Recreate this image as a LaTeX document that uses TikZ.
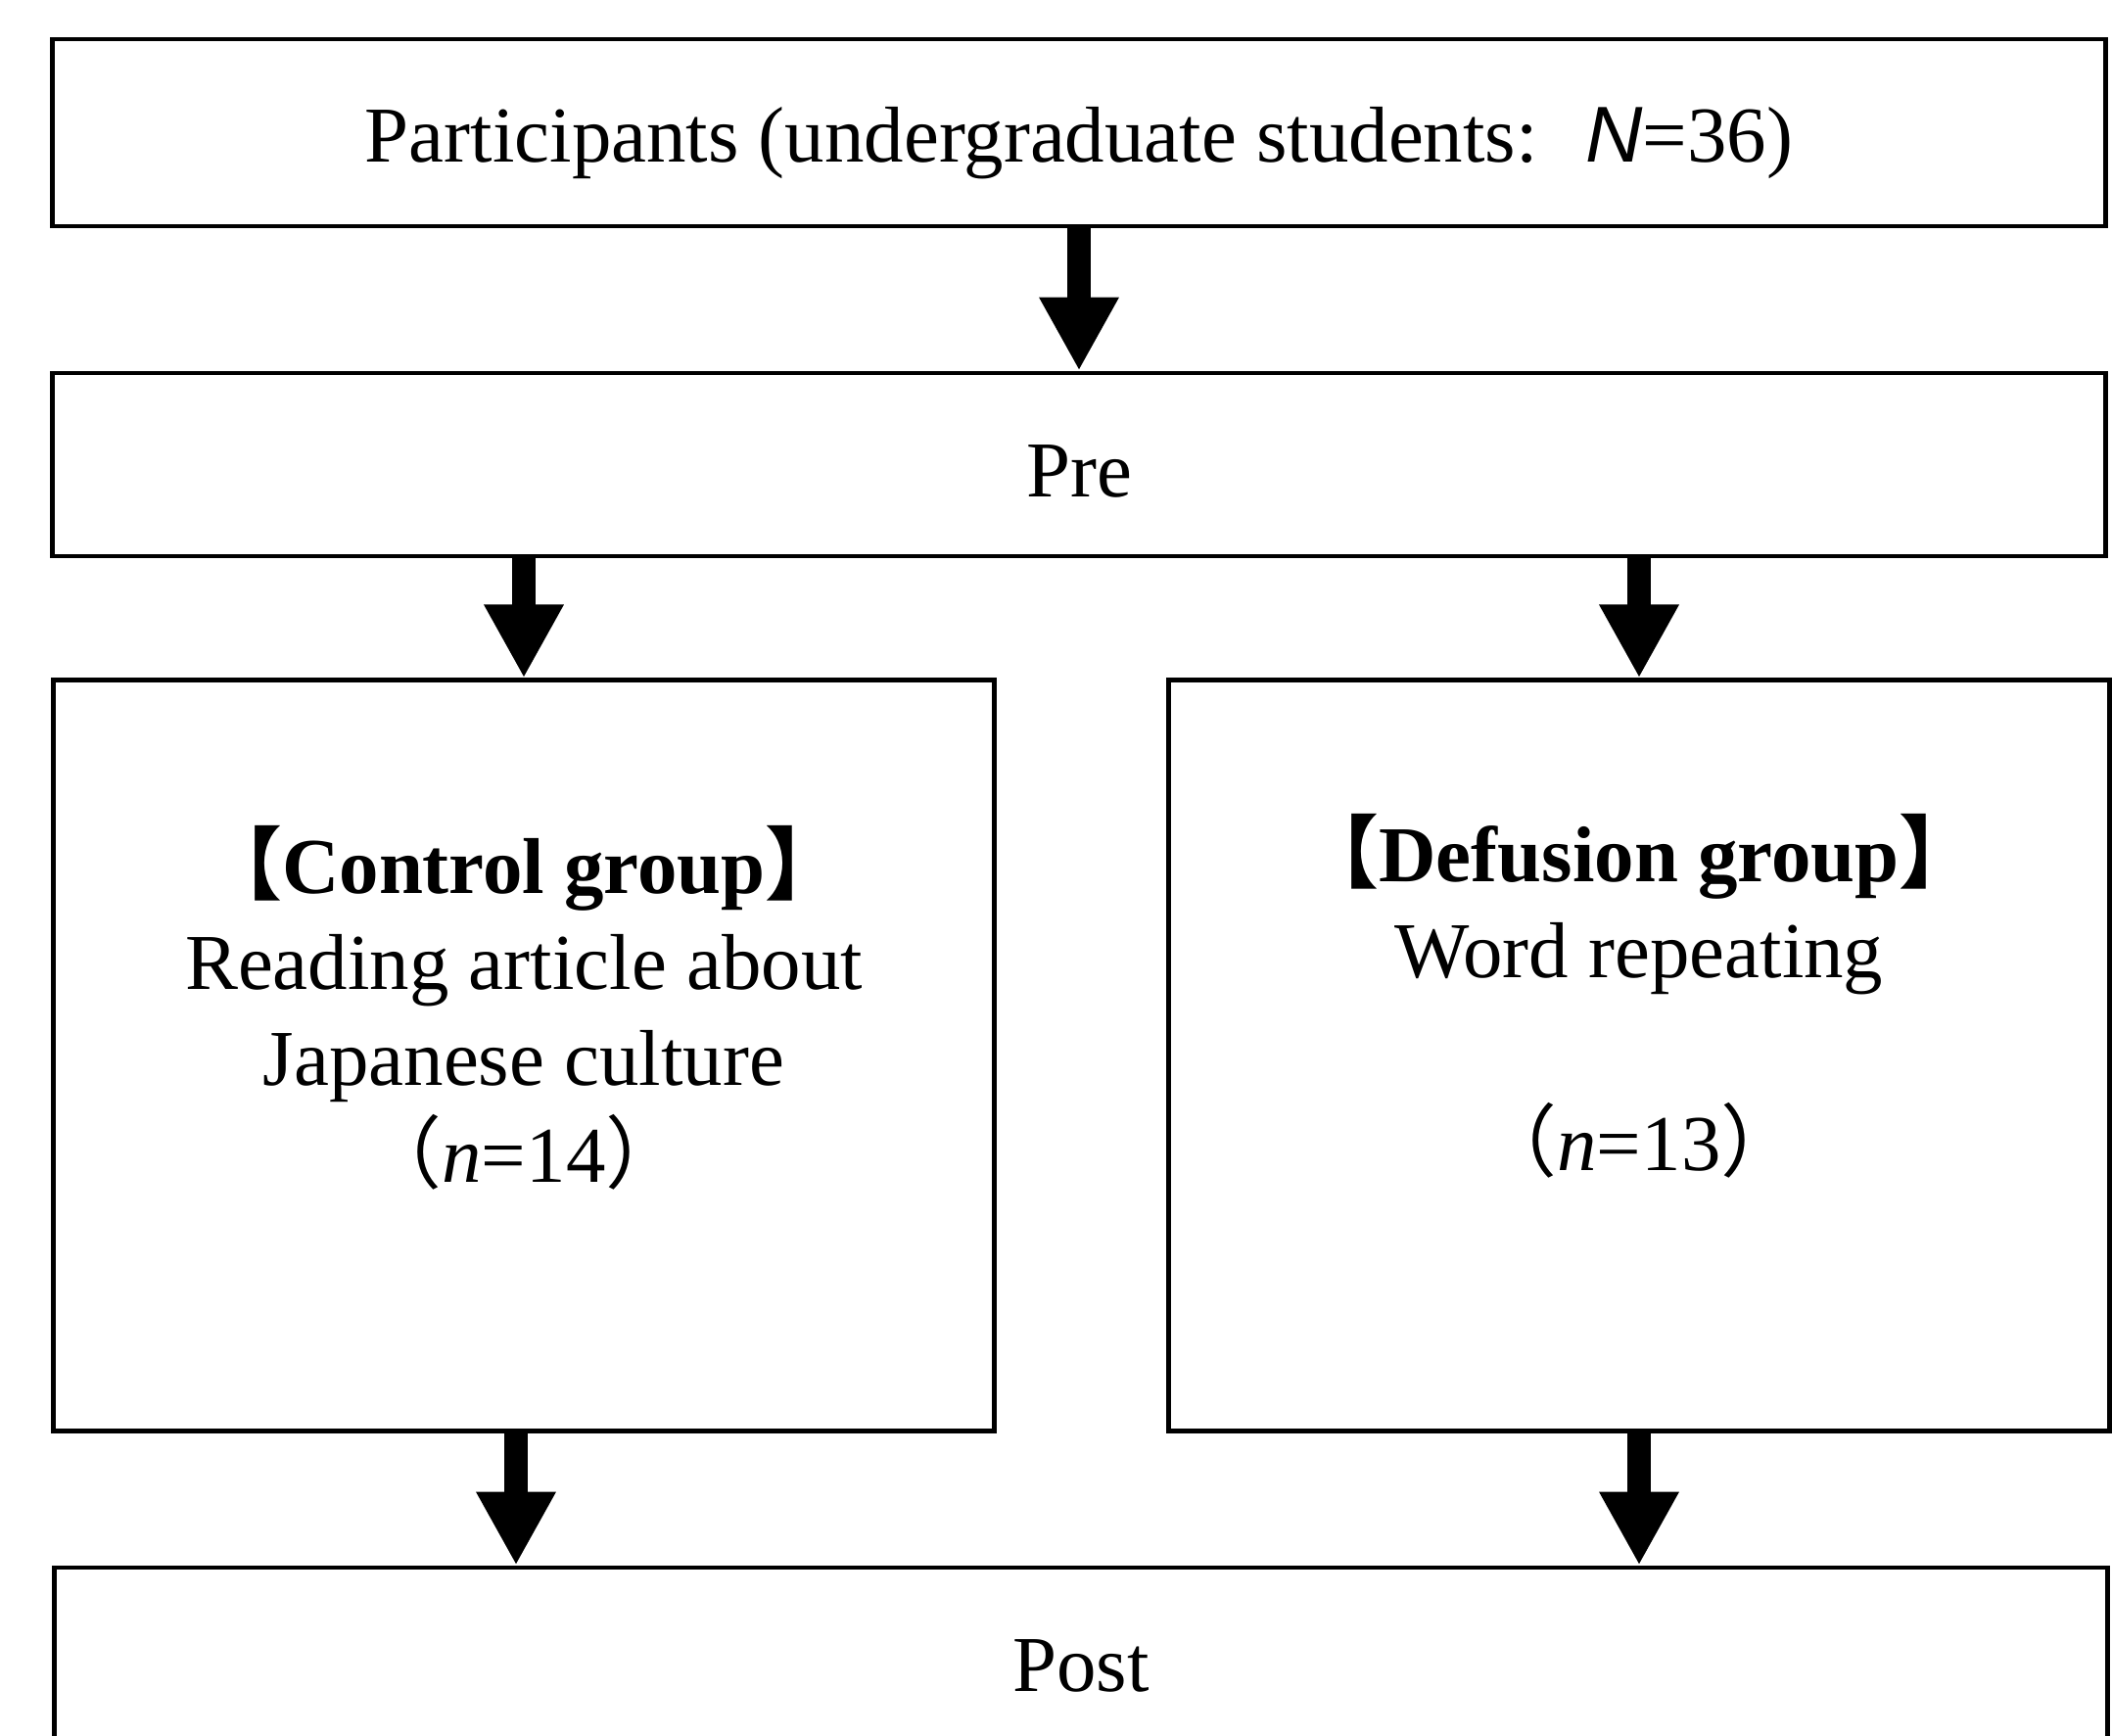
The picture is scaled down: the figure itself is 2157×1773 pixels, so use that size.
\documentclass[tikz,border=0pt]{standalone}
\usepackage{fontspec}
\setmainfont{Liberation Serif}
\newfontfamily\cjkfont{Noto Sans CJK JP}
\newfontfamily\arialfont{Liberation Sans}
\usetikzlibrary{arrows.meta}

\newcommand{\lbr}{{\cjkfont\bfseries 【}}
\newcommand{\rbr}{{\cjkfont\bfseries 】}}
\newcommand{\lpar}{{\cjkfont （}}
\newcommand{\rpar}{{\cjkfont ）}}

\tikzset{
    box/.style = {draw, line width=1.3pt, inner sep=0pt},
    wide box/.style = {box, minimum width=20.96cm},
    group box/.style = {box, minimum width=9.6cm, minimum height=7.66cm},
    label text/.style = {align=center, font=\fontsize{23pt}{28pt}\selectfont},
    flow arrow/.style = {line width=7pt, -{Triangle[length=0.75cm,width=0.76cm]}},
}

\begin{document}
\begin{tikzpicture}[x=0.01cm, y=-0.01cm]
    \clip (0,0) rectangle (2157,1773);
    \fill[white] (0,0) rectangle (2157,1773);

    % boxes
    \node[wide box, minimum height=1.91cm] (part) at (1102,135.5) {};
    \node[wide box, minimum height=1.87cm] (pre)  at (1102,474.5) {};
    \node[group box] (ctrl) at (535,1078) {};
    \node[group box] (defu) at (1674,1078) {};
    \node[wide box, minimum height=2.0cm] (post) at (1104,1701) {};
    \coordinate (ctrlout) at (527,1461);

    % texts
    \node[label text] (parttxt) at (1102,146) {Participants (undergraduate students:\hspace{0.6em}{\arialfont\itshape N}=36)};
    \node[label text] (pretxt) at (1102,481) {Pre};
    \node[label text] (ctrltxt) at (535,1029) {\lbr\textbf{Control group}\rbr\\
        Reading article about\\Japanese culture\\\lpar\textit{n}=14\rpar};
    \node[label text] (defutxt) at (1674,1017) {\lbr\textbf{Defusion group}\rbr\\
        Word repeating\\[28pt]\lpar\textit{n}=13\rpar};
    \node[label text] (posttxt) at (post.center) {Post};

    % arrows
    \draw[flow arrow] (part.south) -- (pre.north);
    \draw[flow arrow] (pre.south -| ctrl.north) -- (ctrl.north);
    \draw[flow arrow] (pre.south -| defu.north) -- (defu.north);
    \draw[flow arrow] (ctrlout) -- (ctrlout |- post.north);
    \draw[flow arrow] (defu.south) -- (defu.south |- post.north);
\end{tikzpicture}
\end{document}
